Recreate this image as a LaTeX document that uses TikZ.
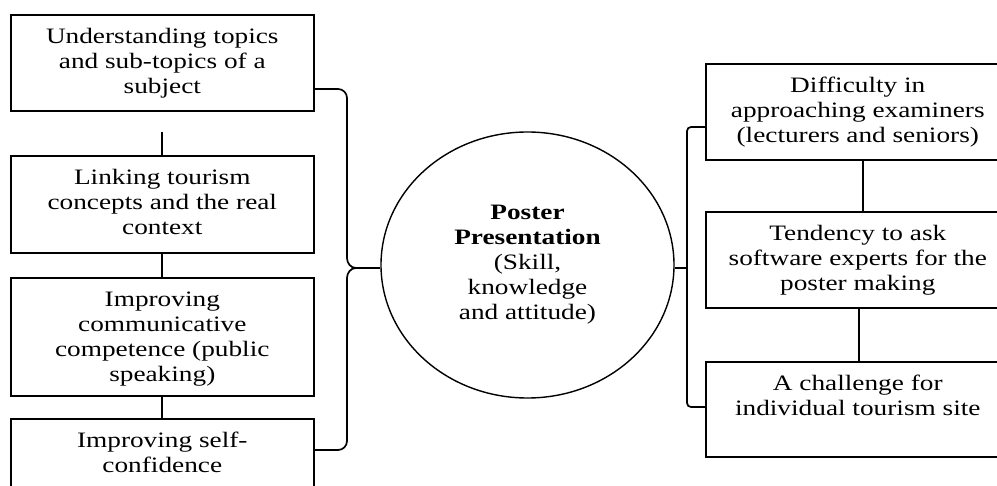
\documentclass[tikz,border=0pt]{standalone}
\usepackage{fontspec}
\setmainfont[FakeStretch=1.24]{Liberation Serif}
\usetikzlibrary{shapes.geometric,calc}
\tikzset{
  txt/.style={font=\fontsize{22}{25}\selectfont},
  boxnode/.style={txt, draw, line width=1.6pt, inner sep=0pt, anchor=north west},
  hub/.style={txt, draw, ellipse, line width=1.4pt, inner sep=0pt, align=center,
    minimum width=293pt, minimum height=266pt},
  link/.style={line width=1.7pt},
}
\newcommand{\boxtext}[3]{\parbox[t][#1][t]{#2}{\centering\rule{0pt}{29pt}#3}}
\begin{document}
\begin{tikzpicture}[x=1pt,y=-1pt]
\useasboundingbox (0,0) rectangle (997,486);
% left boxes
\node[boxnode] (l1) at (10,14) {\boxtext{96pt}{303pt}{Understanding topics\\and sub-topics of a\\subject}};
\node[boxnode] (l2) at (10,155) {\boxtext{97pt}{303pt}{Linking tourism\\concepts and the real\\context}};
\node[boxnode] (l3) at (10,277) {\boxtext{118pt}{303pt}{Improving\\communicative\\competence (public\\speaking)}};
\node[boxnode] (l4) at (10,418) {\boxtext{96pt}{303pt}{Improving self-\\confidence}};
% right boxes
\node[boxnode] (r1) at (705,63) {\boxtext{96pt}{304pt}{Difficulty in\\approaching examiners\\(lecturers and seniors)}};
\node[boxnode] (r2) at (705,211) {\boxtext{96pt}{304pt}{Tendency to ask\\software experts for the\\poster making}};
\node[boxnode] (r3) at (705,361) {\boxtext{95pt}{304pt}{A challenge for\\individual tourism site}};
% central ellipse
\node[hub] (c) at (527.5,265) {\textbf{Poster}\\\textbf{Presentation}\\(Skill,\\knowledge\\and attitude)};
% vertical links left
\coordinate (g1) at ([yshift=23pt]l2.north);
\draw[link] (g1) -- (l2.north);
\draw[link] (l2.south) -- (l3.north);
\draw[link] (l3.south) -- (l4.north);
% vertical links right
\draw[link] ([xshift=5pt]r1.south) -- ([xshift=5pt]r2.north);
\draw[link] ([xshift=1pt]r2.south) -- ([xshift=1pt]r3.north);
% left brace
\coordinate (lt) at (313,89);
\coordinate (lb) at (313,450);
\coordinate (lc) at (356,268);
\draw[link] (lt) -- (338,89) to[out=0,in=90] (347,98) -- (347,258)
  to[out=-90,in=180] (lc);
\draw[link] (lc) to[out=180,in=90] (347,278) -- (347,441)
  to[out=-90,in=0] (338,450) -- (lb);
\draw[link] (lc) -- (lc -| c.west);
% right brace
\coordinate (rt) at (705,127);
\coordinate (rb) at (705,407);
\coordinate (rc) at (687,268);
\draw[link] (rt) -- (691,127) to[out=180,in=90] (687,131) -- (687,403)
  to[out=-90,in=180] (691,407) -- (rb);
\draw[link] (rc) -- (rc -| c.east);
\end{tikzpicture}
\end{document}
